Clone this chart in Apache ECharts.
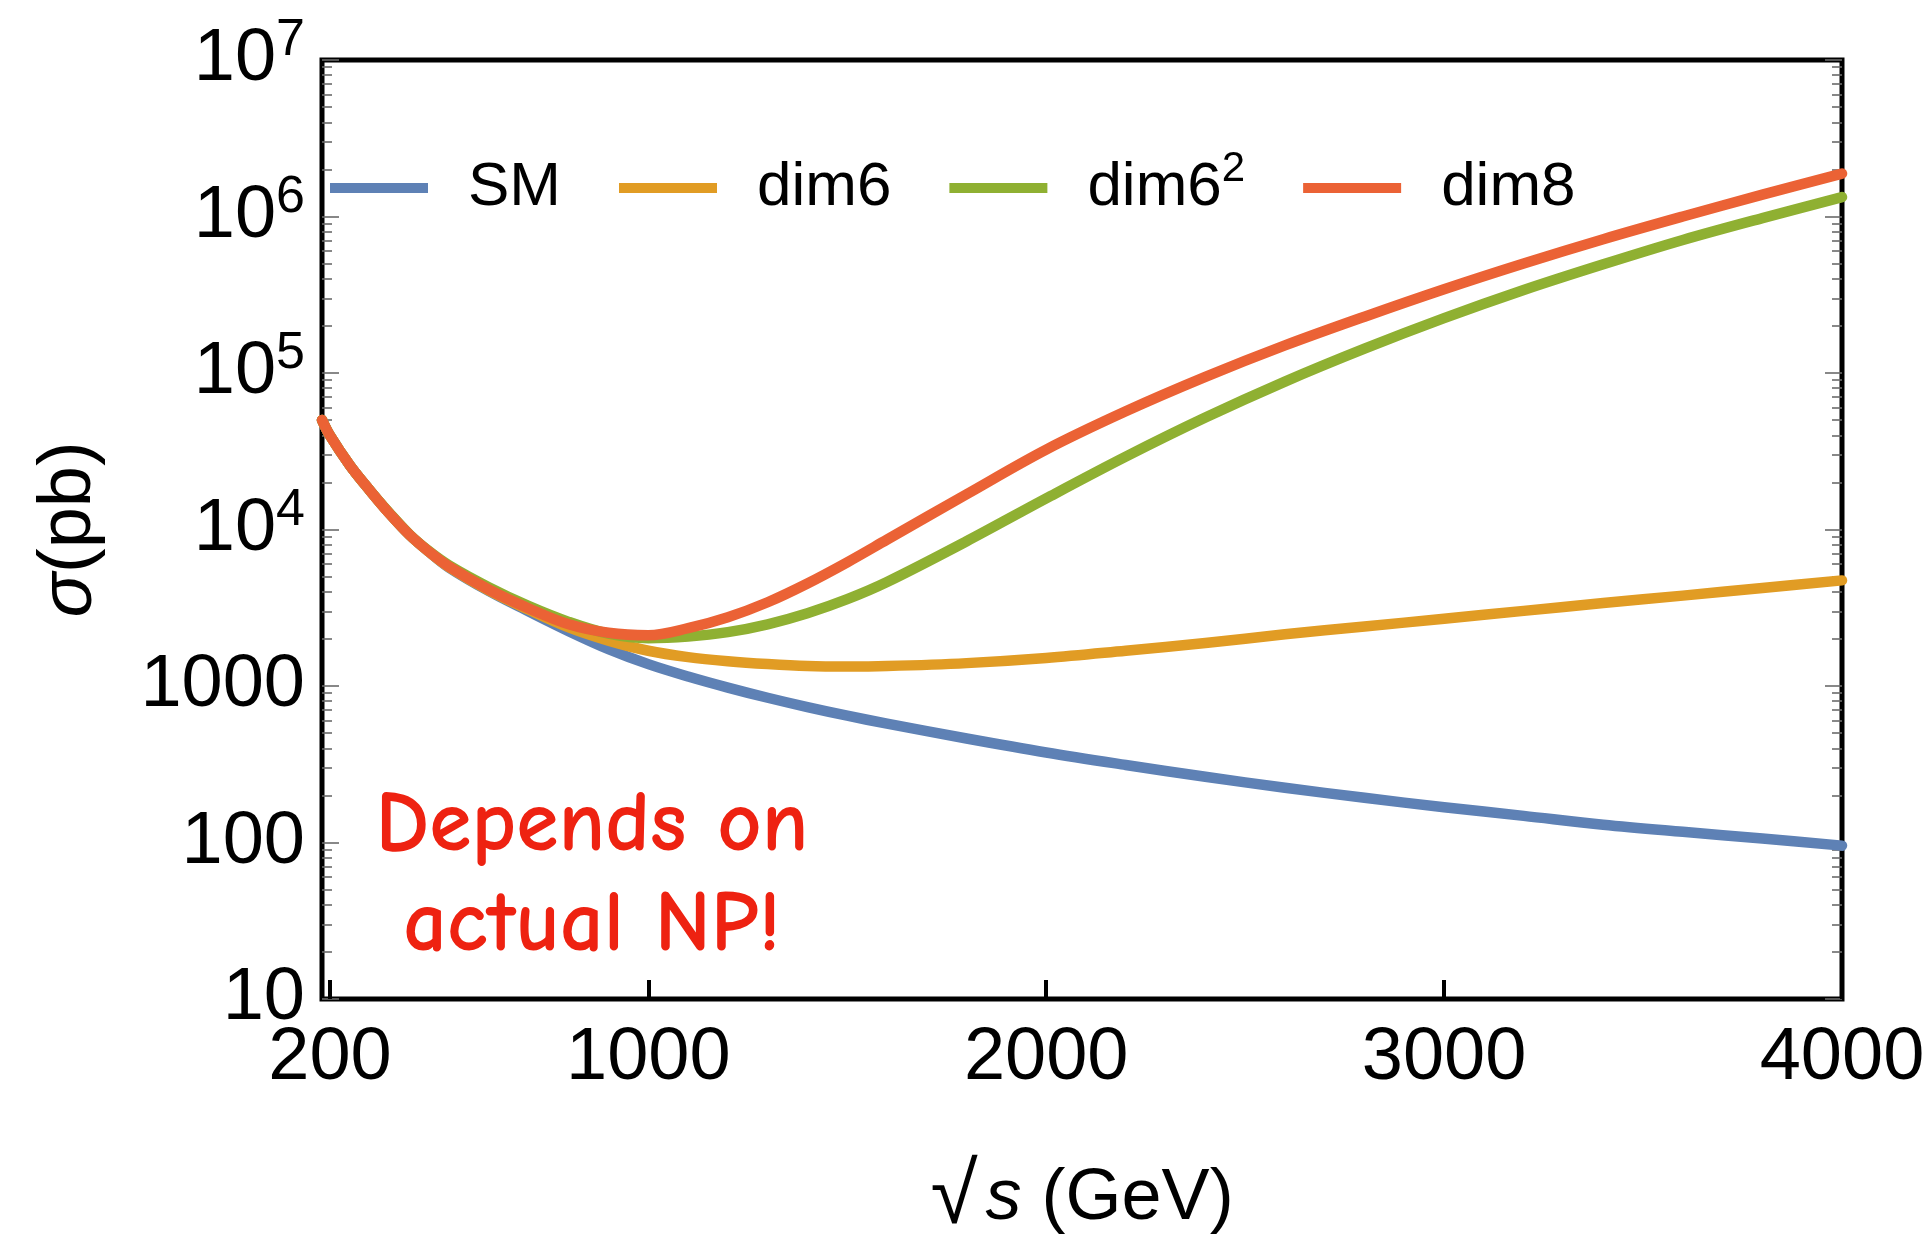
<!DOCTYPE html>
<html>
<head>
<meta charset="utf-8">
<script src="https://cdn.jsdelivr.net/npm/echarts@6/dist/echarts.min.js"></script>
<style>
  html, body { margin: 0; padding: 0; background: #ffffff; }
  #chart { width: 1931px; height: 1237px; }
</style>
</head>
<body>
<div id="chart"></div>
<script>
// Centre-of-mass energy sqrt(s) in GeV
const sqrtS = [180, 200, 250, 300, 350, 400, 450, 500, 600, 700, 800, 900, 1000, 1100, 1200, 1300,
  1400, 1500, 1600, 1800, 2000, 2200, 2400, 2600, 2800, 3000, 3200, 3400, 3600, 3800, 4000];

// Cross sections in pb
const sigmaSM = [50100, 39800, 25700, 17800, 12600, 9230, 7160, 5690, 4030, 2990, 2240, 1720, 1380, 1150,
  977, 841, 733, 646, 575, 462, 376, 313, 263, 224, 193, 168, 148, 130, 117, 106, 95.5];
const sigmaDim6 = [50100, 39800, 25700, 17800, 12600, 9230, 7160, 5730, 4070, 3070, 2370, 1950, 1680, 1530,
  1440, 1380, 1340, 1330, 1340, 1400, 1510, 1680, 1880, 2140, 2400, 2690, 3020, 3390, 3780, 4230, 4730];
const sigmaDim6Sq = [50100, 39800, 25700, 17800, 12700, 9300, 7240, 5890, 4270, 3240, 2570, 2160, 2020, 2070,
  2210, 2480, 2920, 3590, 4620, 8410, 15800, 29200, 51900, 88100, 143000, 224000, 339000, 495000,
  708000, 977000, 1330000];
const sigmaDim8 = [50100, 39800, 25700, 17800, 12600, 9250, 7180, 5780, 4120, 3130, 2480, 2190, 2110, 2340,
  2750, 3430, 4520, 6170, 8610, 16800, 32400, 56900, 94400, 150000, 229000, 343000, 501000, 716000,
  1000000, 1380000, 1880000];

const seriesNames = ['SM', 'dim6', 'dim6²', 'dim8'];
const seriesColors = ['#5E81B5', '#E19C24', '#8FB032', '#EB6235'];

const xTicks = [200, 1000, 2000, 3000, 4000];
const yTickLabels = ['10', '100', '1000', '10^4', '10^5', '10^6', '10^7'];

const FONT = '"Liberation Sans", Arial, Helvetica, sans-serif';

// minor log ticks (2..9 x 10^n), expressed as log10 positions
const minorLogTicks = [];
for (let n = 1; n < 7; n++) {
  for (let k = 2; k <= 9; k++) minorLogTicks.push(n + Math.log10(k));
}

function pairs(ys) {
  return sqrtS.map((x, i) => [x, ys[i]]);
}

const allSigma = [sigmaSM, sigmaDim6, sigmaDim6Sq, sigmaDim8];

const chart = echarts.init(document.getElementById('chart'), null, { renderer: 'canvas' });

const tickGrey = { color: '#6a6a6a', width: 1.6 };

const option = {
  animation: false,
  backgroundColor: '#ffffff',
  textStyle: { fontFamily: FONT },
  color: seriesColors,
  grid: {
    left: 322, top: 60, width: 1520, height: 939,
    containLabel: false,
    outerBoundsMode: 'none',
    show: true,
    borderColor: '#000000',
    borderWidth: 5,
    backgroundColor: 'transparent'
  },
  legend: {
    left: 330,
    top: 148,
    padding: 0,
    icon: 'rect',
    itemWidth: 98,
    itemHeight: 10,
    itemGap: 58,
    data: seriesNames,
    formatter: function (name) {
      return '{g| }' + name.replace('²', '{sup|2}');
    },
    textStyle: {
      fontFamily: FONT,
      fontSize: 62,
      lineHeight: 80,
      color: '#000000',
      rich: {
        g: { width: 35, fontSize: 62, fontFamily: FONT, lineHeight: 80 },
        sup: { fontSize: 42, fontFamily: FONT, verticalAlign: 'top', lineHeight: 42, color: '#000000' }
      }
    }
  },
  xAxis: [{
    type: 'value',
    min: 180,
    max: 4000,
    position: 'bottom',
    name: '{r|√}{s|s}{t| (GeV)}',
    nameLocation: 'middle',
    nameGap: 160,
    nameTextStyle: {
      fontFamily: FONT, fontSize: 72, color: '#000000', lineHeight: 80,
      rich: {
        r: { fontFamily: FONT, fontSize: 86, color: '#000000', lineHeight: 80 },
        s: { fontFamily: FONT, fontSize: 72, fontStyle: 'italic', color: '#000000', lineHeight: 80, padding: [0, 0, 0, 8] },
        t: { fontFamily: FONT, fontSize: 72, color: '#000000', lineHeight: 80 }
      }
    },
    axisLine: { show: false },
    axisTick: { show: true, inside: true, length: 19, customValues: xTicks, lineStyle: { color: '#000000', width: 4 } },
    axisLabel: {
      show: true, customValues: xTicks, margin: 23, fontFamily: FONT, fontSize: 74, color: '#000000',
      formatter: function (v) { return String(Math.round(v)); }
    },
    splitLine: { show: false },
    minorTick: { show: false }
  }],
  yAxis: [
    {
      type: 'log',
      logBase: 10,
      min: 10,
      max: 10000000,
      position: 'left',
      name: '{sig|σ}(pb)',
      nameLocation: 'middle',
      nameGap: 212,
      nameTextStyle: {
        fontFamily: FONT, fontSize: 74, color: '#000000', lineHeight: 80,
        rich: { sig: { fontFamily: FONT, fontSize: 74, fontStyle: 'italic', color: '#000000', lineHeight: 80 } }
      },
      axisLine: { show: false },
      axisTick: { show: true, inside: true, length: 17, lineStyle: tickGrey },
      axisLabel: {
        show: true,
        margin: 17,
        fontFamily: FONT,
        fontSize: 74,
        lineHeight: 90,
        color: '#000000',
        formatter: function (v) {
          const e = Math.round(Math.log10(v));
          const lab = yTickLabels[e - 1] || String(v);
          return lab.replace(/\^(\d+)/, '{sup|$1}');
        },
        rich: {
          sup: { fontFamily: FONT, fontSize: 52, verticalAlign: 'top', lineHeight: 52, color: '#000000' }
        }
      },
      splitLine: { show: false }
    },
    {
      type: 'log',
      logBase: 10,
      min: 10,
      max: 10000000,
      position: 'right',
      axisLine: { show: false },
      axisTick: { show: true, inside: true, length: 17, lineStyle: tickGrey },
      axisLabel: { show: false },
      splitLine: { show: false }
    },
    {
      type: 'value',
      min: 1,
      max: 7,
      position: 'left',
      axisLine: { show: false },
      axisTick: { show: true, inside: true, length: 10, customValues: minorLogTicks, lineStyle: tickGrey },
      axisLabel: { show: false },
      splitLine: { show: false }
    },
    {
      type: 'value',
      min: 1,
      max: 7,
      position: 'right',
      axisLine: { show: false },
      axisTick: { show: true, inside: true, length: 10, customValues: minorLogTicks, lineStyle: tickGrey },
      axisLabel: { show: false },
      splitLine: { show: false }
    }
  ],
  graphic: [{
    type: 'text',
    x: 592,
    y: 876,
    z: 100,
    style: {
      text: 'Depends on\nactual NP!',
      fill: '#EE2211',
      font: 'bold 86px "Comic Sans MS", "Comic Neue", Lato, sans-serif',
      textAlign: 'center',
      textVerticalAlign: 'middle',
      lineHeight: 100
    }
  }],
  series: seriesNames.map((name, i) => ({
    name: name,
    type: 'line',
    xAxisIndex: 0,
    yAxisIndex: 0,
    data: pairs(allSigma[i]),
    showSymbol: false,
    symbol: 'none',
    smooth: 0.35,
    clip: true,
    color: seriesColors[i],
    lineStyle: { color: seriesColors[i], width: 10.5, cap: 'round', join: 'round' },
    z: 2 + i
  }))
};

chart.setOption(option);
</script>
</body>
</html>
